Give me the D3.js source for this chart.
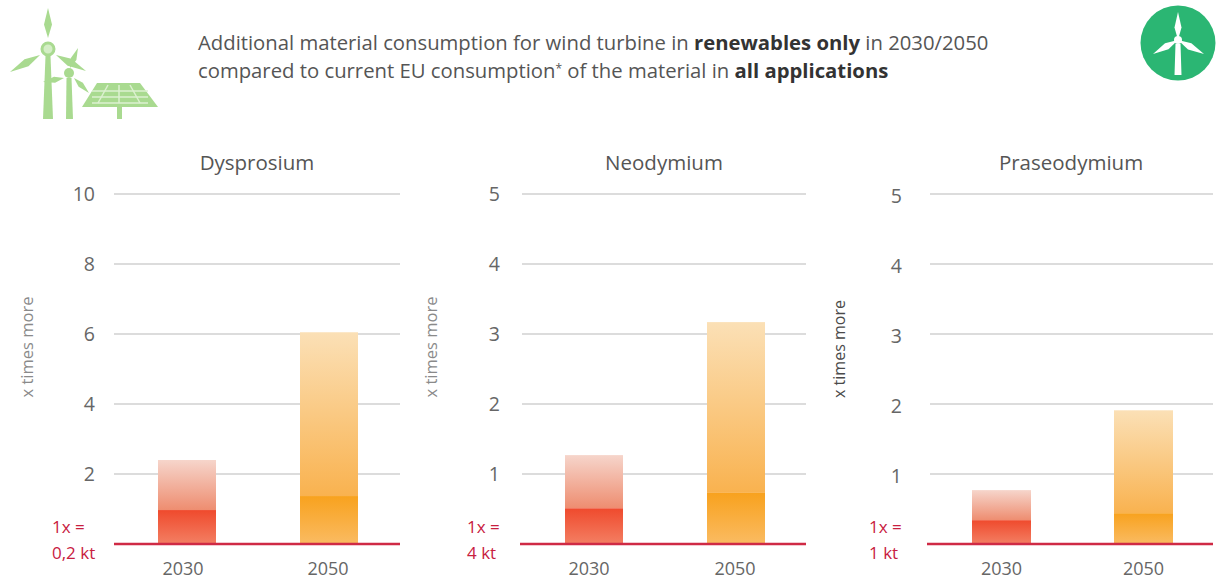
<!DOCTYPE html>
<html>
<head>
<meta charset="utf-8">
<script src="https://cdn.jsdelivr.net/npm/d3@7/dist/d3.min.js"></script>
<style>
html,body{margin:0;padding:0;background:#fff;overflow:hidden}
svg{display:block}
text{font-family:"Open Sans",sans-serif}
</style>
</head>
<body>
<svg id="chart" width="1221" height="581"></svg>
<script>
// Material demand, in multiples of current EU consumption
const materials = ["Dysprosium", "Neodymium", "Praseodymium"];
const years = ["2030", "2050"];
const highCase = [[2.4, 6.05], [1.27, 3.17], [0.77, 1.91]];
const lowCase = [[0.97, 1.37], [0.51, 0.73], [0.34, 0.44]];
const axisMax = [10, 5, 5];
const axisTicks = [[2, 4, 6, 8, 10], [1, 2, 3, 4, 5], [1, 2, 3, 4, 5]];
const unitLines = [["1x =", "0,2 kt"], ["1x =", "4 kt"], ["1x =", "1 kt"]];

const svg = d3.select("#chart");
const defs = svg.append("defs");

// Four gradients: the pale upper band and the saturated lower band per year
function gradient(id, stops) {
  const g = defs.append("linearGradient").attr("id", id)
    .attr("x1", 0).attr("y1", 0).attr("x2", 0).attr("y2", 1);
  stops.forEach(([o, c]) => g.append("stop").attr("offset", o).attr("stop-color", c));
}
gradient("upper0", [[0, "#f6d5cb"], [1, "#ee8d70"]]);
gradient("lower0", [[0, "#ef4a2d"], [1, "#f37f63"]]);
gradient("upper1", [[0, "#fbe0b6"], [1, "#f9b24f"]]);
gradient("lower1", [[0, "#f8a21e"], [1, "#fabb62"]]);

const panels = [
  {gridX: [114, 400], baseX0: 114, tickX: 95, tickDy: 7, labelX: 28, titleX: 257, barX: [158, 300], barW: 58, unitX: 52, labelColor: "#8a8a8a", yearDx: [-4, -1]},
  {gridX: [522, 806], baseX0: 520, tickX: 500, tickDy: 7, labelX: 432, titleX: 664, barX: [565, 707], barW: 58, unitX: 467, labelColor: "#8a8a8a", yearDx: [-5, -1]},
  {gridX: [930, 1213], baseX0: 927, tickX: 902, tickDy: 9, labelX: 840, titleX: 1071, barX: [972, 1114], barW: 59, unitX: 869, labelColor: "#4a4a4a", yearDx: [0, 0]}
];

const baseY = 544;
const topY = 194;

materials.forEach((name, i) => {
  const p = panels[i];
  const y = d3.scaleLinear().domain([0, axisMax[i]]).range([baseY, topY]);
  const x = d3.scaleOrdinal().domain(years).range(p.barX);
  const g = svg.append("g");

  g.append("text").attr("x", p.titleX).attr("y", 170)
    .attr("text-anchor", "middle").attr("font-size", 20.5).attr("fill", "#555").text(name);

  // Gridlines sit behind the bars
  g.selectAll("line.grid").data(axisTicks[i]).join("line").attr("class", "grid")
    .attr("x1", p.gridX[0]).attr("x2", p.gridX[1])
    .attr("y1", d => y(d)).attr("y2", d => y(d))
    .attr("stroke", "#dcdcdc").attr("stroke-width", 1.8);

  g.selectAll("text.tick").data(axisTicks[i]).join("text").attr("class", "tick")
    .attr("x", p.tickX).attr("y", d => y(d) + p.tickDy)
    .attr("text-anchor", "end").attr("font-size", 19.5).attr("fill", "#666").text(d => d);

  g.append("text")
    .attr("transform", `translate(${p.labelX + 5},${i === 2 ? 349 : 347}) rotate(-90)`)
    .attr("text-anchor", "middle").attr("font-size", i === 2 ? 16 : 16.5)
    .attr("fill", p.labelColor).text("x times more");

  years.forEach((yr, j) => {
    const hi = highCase[i][j], lo = lowCase[i][j];
    g.append("rect").attr("x", x(yr)).attr("width", p.barW)
      .attr("y", y(hi)).attr("height", y(lo) - y(hi))
      .attr("fill", `url(#upper${j})`);
    g.append("rect").attr("x", x(yr)).attr("width", p.barW)
      .attr("y", y(lo)).attr("height", y(0) - y(lo))
      .attr("fill", `url(#lower${j})`);
    g.append("text").attr("x", x(yr) + p.barW / 2 + p.yearDx[j]).attr("y", 575)
      .attr("text-anchor", "middle").attr("font-size", 18).attr("fill", "#666").text(yr);
  });

  g.append("line").attr("x1", p.baseX0).attr("x2", p.gridX[1])
    .attr("y1", y(0)).attr("y2", y(0))
    .attr("stroke", "#cf2a45").attr("stroke-width", 2.4);

  g.selectAll("text.unit").data(unitLines[i]).join("text").attr("class", "unit")
    .attr("x", p.unitX).attr("y", (d, k) => 533 + k * 26)
    .attr("font-size", 17).attr("fill", "#c8203f").text(d => d);
});

// Heading
const heading = svg.append("g").attr("font-size", 20.3).attr("fill", "#555");
const line1 = heading.append("text").attr("x", 198).attr("y", 50);
line1.append("tspan").text("Additional material consumption for wind turbine in ");
line1.append("tspan").attr("font-weight", 700).attr("fill", "#333").text("renewables only");
line1.append("tspan").text(" in 2030/2050");
const line2 = heading.append("text").attr("x", 198).attr("y", 78);
line2.append("tspan").text("compared to current EU consumption");
line2.append("tspan").attr("font-size", 12).attr("dy", -5).text("*");
line2.append("tspan").attr("dy", 5).text(" of the material in ");
line2.append("tspan").attr("font-weight", 700).attr("fill", "#333").text("all applications");

// A tapered blade from a hub to a tip
function blade(cx, cy, tx, ty, w) {
  const dx = tx - cx, dy = ty - cy, len = Math.hypot(dx, dy);
  const nx = -dy / len * w, ny = dx / len * w;
  const mx = cx + dx * 0.45, my = cy + dy * 0.45;
  return `M${cx},${cy}L${mx + nx},${my + ny}L${tx},${ty}L${mx - nx},${my - ny}Z`;
}

// Pictogram: two turbines and a solar panel
const green = "#a9da90";
const deco = svg.append("g").attr("fill", green);
deco.append("path").attr("d", "M45.5,56L50.5,56L53,119L43,119Z");
deco.append("path").attr("d", blade(48, 38, 48, 8, 4));
deco.append("path").attr("d", blade(40, 55, 10, 72, 4));
deco.append("path").attr("d", blade(56, 55, 86, 71, 4));
deco.append("circle").attr("cx", 48).attr("cy", 49).attr("r", 6).attr("fill", "#d4eec6")
  .attr("stroke", green).attr("stroke-width", 3);
deco.append("path").attr("d", "M66.5,78L71.5,78L73,119L66,119Z");
deco.append("path").attr("d", blade(70, 68, 78, 48, 3));
deco.append("path").attr("d", blade(64, 78, 43, 82, 3));
deco.append("path").attr("d", blade(74, 78, 89, 93, 3));
deco.append("circle").attr("cx", 69).attr("cy", 73).attr("r", 5);
deco.append("path").attr("d", "M97,83L140,83L158,107L82,107Z");
deco.append("rect").attr("x", 117).attr("y", 107).attr("width", 5).attr("height", 12);
const slots = deco.append("g").attr("stroke", "#dcf0d0").attr("stroke-width", 1.5);
[[108, 85, 98, 103], [119, 85, 119, 103], [130, 85, 140, 103]].forEach(s =>
  slots.append("line").attr("x1", s[0]).attr("y1", s[1]).attr("x2", s[2]).attr("y2", s[3]));
[91, 97, 103].forEach(v =>
  slots.append("line").attr("x1", 92).attr("x2", 148).attr("y1", v).attr("y2", v));

// Round turbine badge
const badge = svg.append("g");
badge.append("circle").attr("cx", 1178).attr("cy", 43).attr("r", 37.5).attr("fill", "#2bb673");
badge.append("path").attr("d", "M1175.5,44L1180.5,44L1181.5,75L1174.5,75Z").attr("fill", "#fff");
badge.append("path").attr("d", blade(1178, 40, 1178, 12, 3.5)).attr("fill", "#fff");
badge.append("path").attr("d", blade(1178, 40, 1153, 54, 3.5)).attr("fill", "#fff");
badge.append("path").attr("d", blade(1178, 40, 1204, 54, 3.5)).attr("fill", "#fff");
badge.append("circle").attr("cx", 1178).attr("cy", 40).attr("r", 4).attr("fill", "#fff");
</script>
</body>
</html>
